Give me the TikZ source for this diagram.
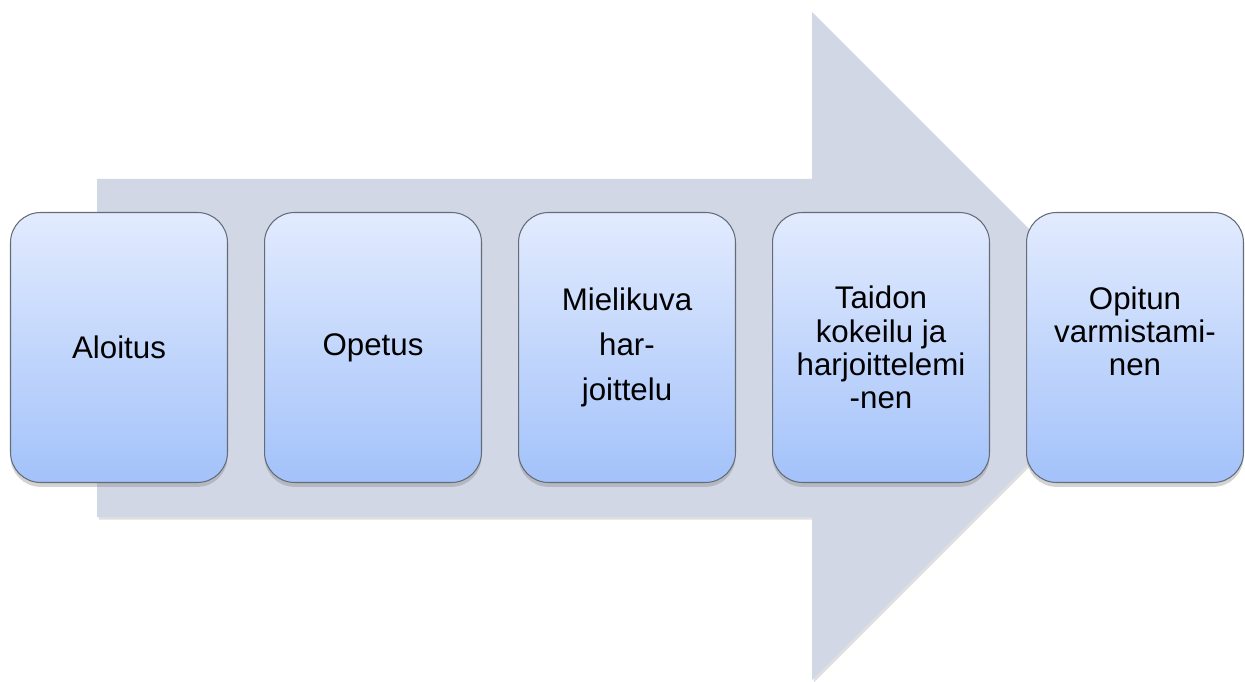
\documentclass[tikz,border=0pt]{standalone}
\usepackage{fontspec}
\setmainfont{Liberation Sans}
\usetikzlibrary{positioning,shadows}
\definecolor{arrowgray}{RGB}{209,215,229}
\definecolor{boxtop}{RGB}{226,235,254}
\definecolor{boxbottom}{RGB}{163,194,250}
\definecolor{boxline}{RGB}{100,108,120}
\begin{document}
\begin{tikzpicture}[x=.02cm,y=-.02cm,node distance=.72cm,
    stage/.style={draw=boxline,line width=.6pt,rounded corners=.6cm,
      top color=boxtop,bottom color=boxbottom,
      minimum width=4.34cm,minimum height=5.40cm,align=center,inner sep=2pt,
      drop shadow={shadow xshift=0pt,shadow yshift=-2.5pt,opacity=.35},
      font=\fontsize{17.8}{18.9}\selectfont},
    loose/.style={font=\fontsize{17.8}{25.6}\selectfont}]
  \useasboundingbox (0,0) rectangle (1245,682);
  % big background arrow
  \fill[arrowgray,drop shadow={shadow xshift=1pt,shadow yshift=-1.5pt,opacity=.25}]
    (97,179) -- (812,179) -- (812,12) -- (1146,346) -- (812,680) -- (812,517) -- (97,517) -- cycle;
  % the five stages
  \node[stage] (aloitus) at (119,347.5) {Aloitus};
  \node[stage,right=of aloitus] (opetus) {Opetus};
  \node[stage,loose,right=of opetus] (mielikuva) {Mielikuva\\har-\\joittelu};
  \node[stage,right=of mielikuva] (kokeilu) {Taidon\\kokeilu ja\\harjoittelemi\\-nen};
  \node[stage,right=of kokeilu] (varmistus) {Opitun\\varmistami-\\nen\\\mbox{}};
\end{tikzpicture}
\end{document}
